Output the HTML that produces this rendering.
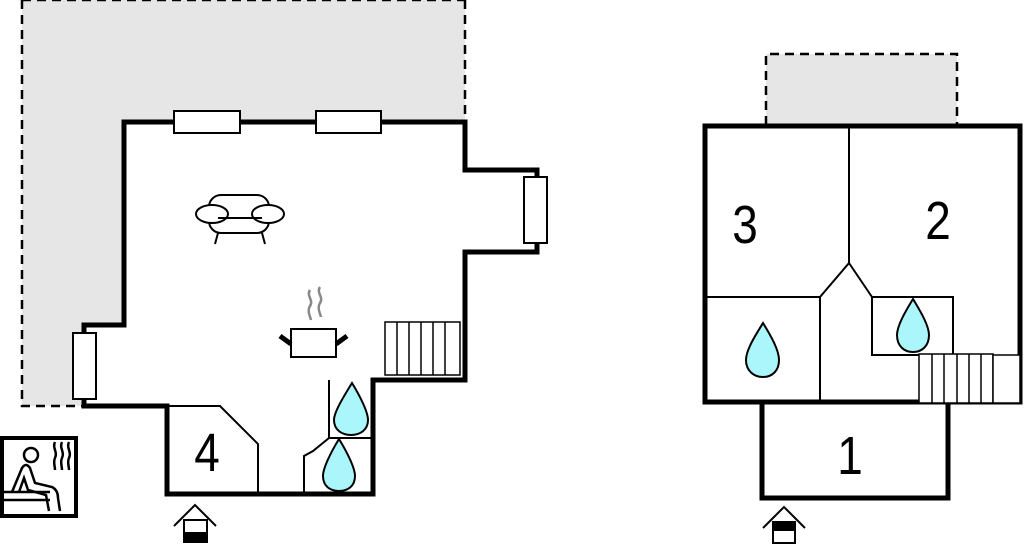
<!DOCTYPE html>
<html><head><meta charset="utf-8"><style>html,body{margin:0;padding:0;background:#fff;}svg{display:block}</style></head><body>
<svg width="1024" height="546" viewBox="0 0 1024 546" xmlns="http://www.w3.org/2000/svg" font-family="Liberation Sans, sans-serif">
<path d="M22,0 H465 V122 H124 V325 H84 V406 H22 Z" fill="#e6e6e6"/>
<path d="M465,0 V122 M22,0 V406 H84 M22,0 H465" fill="none" stroke="#000" stroke-width="2.5" stroke-dasharray="9,6"/>
<path d="M124,122 H465 V170 H537 V252 H465 V380 H373 V494 H167 V406 H84 V325 H124 Z" fill="#fff" stroke="#000" stroke-width="5"/>
<g fill="#fff" stroke="#000" stroke-width="2">
<rect x="174" y="111" width="66" height="22"/>
<rect x="316" y="111" width="65" height="22"/>
<rect x="524" y="177" width="23" height="66"/>
<rect x="73" y="333" width="23" height="66"/>
</g>
<path d="M167,406 H220 L258,444 V494" fill="none" stroke="#000" stroke-width="2"/>
<text transform="translate(207,471) scale(0.85,1)" font-size="54" text-anchor="middle">4</text>
<path d="M329,380 V438 H373 M329,438 L313,451 L304,456 V494" fill="none" stroke="#000" stroke-width="2"/>
<g fill="#aaf6fb" stroke="#000" stroke-width="2">
<path d="M352,383 C344,396 334,412 334,420 C334,430 342,435 351,435 C360,435 368,430 368,420 C368,412 360,396 352,383 Z"/>
<path d="M339,439 C331,452 323,468 323,476 C323,486 330,491 339,491 C348,491 355,486 355,476 C355,468 347,452 339,439 Z"/>
</g>
<g fill="#fff" stroke="#000" stroke-width="1.5">
<rect x="385" y="322" width="75" height="53"/>
<path d="M397,322V375M409,322V375M421,322V375M433,322V375M445,322V375"/>
</g>
<g fill="#fff" stroke="#000" stroke-width="2">
<path d="M218,233 L215,244 M262,233 L265,244"/>
<rect x="209" y="195" width="60" height="38" rx="12"/>
<ellipse cx="212" cy="214" rx="16" ry="9"/>
<ellipse cx="268" cy="214" rx="16" ry="9"/>
<line x1="218" y1="218" x2="262" y2="218"/>
</g>
<g stroke="#888" stroke-width="2.5" fill="none">
<path d="M310,290 c-4,6 4,10 0,16 c-3,5 0,10 1,14"/>
<path d="M320,287 c-4,6 4,10 0,16 c-3,5 0,10 1,14"/>
</g>
<rect x="291" y="329" width="45" height="28" fill="#fff" stroke="#000" stroke-width="2"/>
<path d="M280,336 L291,344 M347,336 L336,344" stroke="#000" stroke-width="5"/>
<rect x="2" y="438" width="74" height="78" fill="#fff" stroke="#000" stroke-width="4"/>
<g fill="none" stroke="#000" stroke-width="2.5">
<circle cx="31" cy="455" r="7"/>
<path d="M12,492 L22,468 Q26,462 30,468 L35,483 L52,487 Q58,490 58,498 L60,511"/>
<path d="M19,492 L24,478 L28,490 L46,495 L49,511"/>
<path d="M4,492 H50 M4,500 H50"/>
<path d="M55,442 c-3,6 3,10 0,16 c-2,4 0,8 0,12 M62,442 c-3,6 3,10 0,16 c-2,4 0,8 0,12 M69,442 c-3,6 3,10 0,16 c-2,4 0,8 0,12"/>
</g>
<g stroke="#000" stroke-width="2" fill="none">
<path d="M174,526 L195,505 L216,526"/>
<rect x="184" y="520" width="23" height="22" fill="#fff"/>
</g>
<rect x="184" y="532" width="23" height="10" fill="#000"/>
<rect x="766" y="54" width="191" height="71" fill="#e6e6e6"/>
<path d="M766,125 V54 H957 V125" fill="none" stroke="#000" stroke-width="2.5" stroke-dasharray="9,6"/>
<path d="M705,126 H1020 V402 H705 Z" fill="#fff" stroke="#000" stroke-width="5"/>
<rect x="762" y="402" width="186" height="96" fill="#fff" stroke="#000" stroke-width="5"/>
<g fill="none" stroke="#000" stroke-width="2">
<path d="M849,126 V263 L820,297 V402 M849,263 L872,297"/>
<path d="M705,297 H820"/>
<rect x="872" y="297" width="81" height="58"/>
<path d="M705,402 H1020"/>
</g>
<g fill="#fff" stroke="#000" stroke-width="1.5">
<rect x="919" y="354" width="74" height="49"/>
<rect x="993" y="355" width="27" height="48"/>
<path d="M932,354V403M944,354V403M957,354V403M969,354V403M981,354V403"/>
</g>
<g fill="#aaf6fb" stroke="#000" stroke-width="2">
<path d="M763,323 C755,336 746,350 746,360 C746,371 754,377 763,377 C772,377 779,371 779,360 C779,350 771,336 763,323 Z"/>
<path d="M913,299 C905,312 897,326 897,335 C897,346 904,352 913,352 C922,352 929,346 929,335 C929,326 921,312 913,299 Z"/>
</g>
<text transform="translate(745,243) scale(0.85,1)" font-size="54" text-anchor="middle">3</text>
<text transform="translate(938,239) scale(0.85,1)" font-size="54" text-anchor="middle">2</text>
<text transform="translate(850,474) scale(0.85,1)" font-size="54" text-anchor="middle">1</text>
<g stroke="#000" stroke-width="2" fill="none">
<path d="M763,528 L784,507 L805,528"/>
<rect x="773" y="522" width="22" height="21" fill="#fff"/>
</g>
<rect x="773" y="522" width="22" height="9" fill="#000"/>
</svg>
</body></html>
